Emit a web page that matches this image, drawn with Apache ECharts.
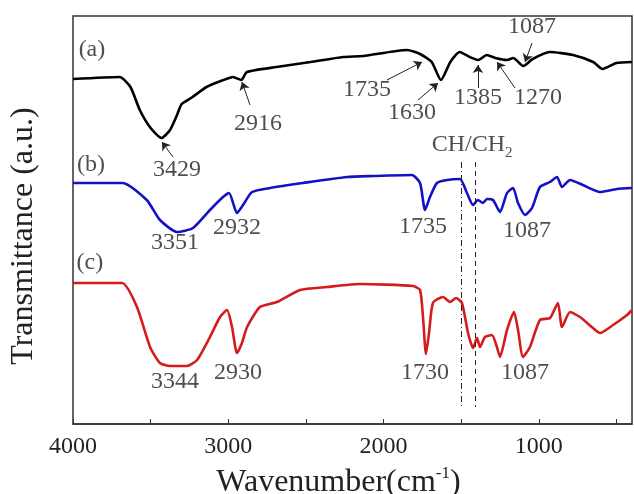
<!DOCTYPE html>
<html>

<head>
    <title>FTIR spectra</title>
    <script src="https://cdn.jsdelivr.net/npm/echarts@6/dist/echarts.min.js"></script>
</head>

<body style="margin:0">
    <div id="myChart" style="width: 634px; height: 494px;"></div>

    <script>
        // spectra: [wavenumber, transmittance (a.u.)]
        const curveA = [
            [4000, 345], [3700, 347], [3630, 337], [3570, 314], [3500, 296], [3430, 286],
            [3375, 294], [3330, 309], [3300, 320], [3230, 327], [3140, 337], [3030, 344],
            [2970, 347], [2916, 344], [2880, 352], [2690, 357], [2470, 362], [2260, 367],
            [2130, 368], [1850, 374], [1765, 370], [1690, 362], [1630, 344], [1570, 362],
            [1510, 372], [1445, 367], [1390, 364], [1335, 369], [1280, 366], [1205, 364],
            [1165, 366], [1100, 358], [1040, 365], [930, 372], [780, 369], [650, 362],
            [590, 355], [500, 361], [400, 362]
        ];
        const curveB = [
            [4000, 241], [3680, 241], [3525, 224], [3440, 204], [3330, 192], [3227, 196],
            [3118, 214], [3034, 227], [2995, 231], [2944, 211], [2905, 219], [2847, 232],
            [2731, 236], [2519, 241], [2235, 247], [2068, 248], [1817, 249], [1765, 241],
            [1733, 214], [1701, 227], [1656, 241], [1591, 244], [1508, 245], [1463, 231],
            [1424, 219], [1392, 224], [1360, 221], [1334, 225], [1295, 224], [1250, 212],
            [1205, 231], [1166, 236], [1134, 221], [1089, 209], [1044, 216], [993, 237],
            [928, 242], [883, 247], [851, 237], [799, 244], [716, 239], [606, 232],
            [497, 235], [400, 236]
        ];
        const curveC = [
            [4000, 141], [3684, 141], [3588, 117], [3504, 77], [3440, 61], [3375, 58],
            [3266, 58], [3201, 64], [3118, 87], [3053, 107], [3008, 114], [2976, 97],
            [2944, 71], [2912, 81], [2879, 97], [2796, 117], [2686, 122], [2538, 134],
            [2364, 137], [2152, 140], [1810, 138], [1765, 134], [1746, 107], [1727, 70],
            [1707, 91], [1682, 121], [1617, 127], [1572, 122], [1533, 126], [1495, 121],
            [1456, 91], [1424, 76], [1398, 86], [1379, 77], [1347, 87], [1302, 89],
            [1270, 77], [1250, 67], [1205, 94], [1160, 112], [1134, 94], [1102, 67],
            [1057, 77], [993, 104], [928, 106], [877, 121], [851, 97], [799, 112],
            [735, 107], [651, 96], [606, 91], [522, 99], [432, 109], [400, 114]
        ];

        // axis ticks
        const tickLabels = [1000, 2000, 3000, 4000];
        const tickMarks = [500, 1000, 1500, 2000, 2500, 3000, 3500, 4000];

        // peak labels: [text, wavenumber, y]
        const peakLabels = [
            ['(a)', 3878, 374], ['(b)', 3884, 259], ['(c)', 3891, 161],
            ['3429', 3330, 254], ['2916', 2809, 300], ['1735', 2107, 334], ['1630', 1817, 311],
            ['1385', 1392, 326], ['1270', 1005, 326], ['1087', 1044, 397],
            ['3351', 3343, 181], ['2932', 2944, 196], ['1735', 1746, 197], ['1087', 1076, 193],
            ['3344', 3343, 42], ['2930', 2937, 51], ['1730', 1733, 51], ['1087', 1089, 51],
            ['CH/CH{sub|2}', 1430, 279]
        ];

        // arrows: [fromX, fromY, toX, toY]
        const arrows = [
            [3356, 267, 3427, 282],
            [2860, 319, 2912, 342],
            [1978, 344, 1752, 362],
            [1778, 324, 1649, 341],
            [1392, 336, 1392, 359],
            [1154, 336, 1269, 362],
            [1044, 381, 1089, 362]
        ];

        // CH/CH2 guide lines: [wavenumber, top, bottom]
        const guides = [[1500, 262, 17], [1410, 262, 17]];

        const font = 'Liberation Serif';
        const textColor = '#222';

        const myChart = echarts.init(document.getElementById('myChart'));

        const arrowLines = arrows.map(a => [
            { coord: [a[0], a[1]] },
            { coord: [a[2], a[3]] }
        ]);
        const guideLines = guides.map((g, i) => [
            { coord: [g[0], g[1]], symbol: 'none', lineStyle: { type: i === 0 ? [6, 3, 1, 3] : [5, 4], width: 1, color: '#222' } },
            { coord: [g[0], g[2]], symbol: 'none' }
        ]);

        function spectrum(data, color) {
            return {
                type: 'line',
                data: data,
                showSymbol: false,
                smooth: 0.2,
                lineStyle: { color: color, width: 2.6 },
                silent: true
            };
        }

        const option = {
            animation: false,
            grid: {
                left: 73, right: 2, top: 16, bottom: 70,
                outerBoundsMode: 'none',
                containLabel: false,
                show: true, borderColor: '#333', borderWidth: 1.5
            },
            xAxis: {
                type: 'value',
                min: 400,
                max: 4000,
                inverse: true,
                name: 'Wavenumber(cm{sup|-1})',
                nameLocation: 'middle',
                nameGap: 34,
                nameMoveOverlap: false,
                nameTextStyle: {
                    fontFamily: font, fontSize: 32, color: textColor,
                    padding: [0, 28, 0, 0],
                    rich: { sup: { fontFamily: font, fontSize: 17, color: textColor, padding: [0, 0, 18, 0] } }
                },
                axisLine: { lineStyle: { color: '#333', width: 1.5 } },
                axisTick: { inside: true, length: 5, customValues: tickMarks, lineStyle: { color: '#333' } },
                axisLabel: {
                    customValues: tickLabels,
                    formatter: v => String(v),
                    fontFamily: font, fontSize: 24, color: textColor, margin: 4
                },
                splitLine: { show: false }
            },
            yAxis: {
                type: 'value',
                min: 0,
                max: 408,
                name: 'Transmittance (a.u.)',
                nameLocation: 'middle',
                nameGap: 25,
                nameMoveOverlap: false,
                nameTextStyle: { fontFamily: font, fontSize: 32, color: textColor, padding: [0, 32, 0, 0] },
                axisLine: { show: false },
                axisTick: { show: false },
                axisLabel: { show: false },
                splitLine: { show: false }
            },
            series: [
                spectrum(curveA, '#000000'),
                spectrum(curveB, '#1212c4'),
                spectrum(curveC, '#d41c1c'),
                {
                    type: 'scatter',
                    symbolSize: 1,
                    itemStyle: { color: 'rgba(0,0,0,0)' },
                    data: peakLabels.map(p => ({ name: p[0], value: [p[1], p[2]] })),
                    label: {
                        show: true,
                        position: 'inside',
                        formatter: '{b}',
                        fontFamily: font,
                        fontSize: 24,
                        color: textColor,
                        rich: { sub: { fontFamily: font, fontSize: 15, color: textColor, padding: [16, 0, 0, 0] } }
                    },
                    silent: true,
                    markLine: {
                        silent: true,
                        symbol: ['none', 'arrow'],
                        symbolSize: 8,
                        label: { show: false },
                        lineStyle: { color: '#222', width: 1, type: 'solid' },
                        data: arrowLines.concat(guideLines)
                    }
                }
            ]
        };

        myChart.setOption(option);
    </script>
</body>

</html>
